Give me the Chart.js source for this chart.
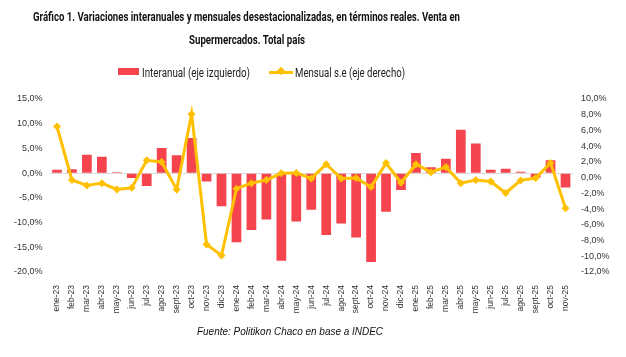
<!DOCTYPE html>
<html>
<head>
<meta charset="utf-8">
<script src="https://cdn.jsdelivr.net/npm/chart.js@4/dist/chart.umd.min.js"></script>
<style>
  html, body { margin: 0; padding: 0; background: #fff; }
  #wrap { position: relative; width: 626px; height: 357px; overflow: hidden; }
  canvas { position: absolute; left: 0; top: 0; }
  .t { position: absolute; white-space: nowrap; transform-origin: 0 50%; color: #1a1a1a; line-height: 1; }
  .title { font-family: "Liberation Sans Narrow", "Roboto", sans-serif; font-weight: bold; font-size: 12px; color: #111; }
  .leg { font-family: "Liberation Sans Narrow", "Roboto", sans-serif; font-size: 13px; color: #222; }
  .foot { font-family: "Liberation Sans", "Arial", sans-serif; font-style: italic; font-size: 10px; color: #111; }
  .sw { position: absolute; }
</style>
</head>
<body>
<div id="wrap">
  <canvas id="c" width="626" height="357"></canvas>
  <div class="t title" data-x="33" data-y="17" data-w="427">Gráfico 1. Variaciones interanuales y mensuales desestacionalizadas, en términos reales. Venta en</div>
  <div class="t title" data-x="189" data-y="40" data-w="116">Supermercados. Total país</div>
  <div class="sw" style="left:118px; top:68px; width:21px; height:7px; background:#F5444E;"></div>
  <div class="t leg" data-x="142" data-y="72" data-w="108">Interanual (eje izquierdo)</div>
  <div class="sw" style="left:269px; top:70.5px; width:24px; height:3px; background:#FFC000;"></div>
  <div class="sw" style="left:278px; top:68px; width:6px; height:6px; background:#FFC000; transform:rotate(45deg);"></div>
  <div class="t leg" data-x="295" data-y="72" data-w="110">Mensual s.e (eje derecho)</div>
  <div class="t foot" data-x="197" data-y="332" data-w="186">Fuente: Politikon Chaco en base a INDEC</div>
</div>
<script>
const categories = ["ene-23","feb-23","mar-23","abr-23","may-23","jun-23","jul-23","ago-23","sept-23","oct-23","nov-23","dic-23",
  "ene-24","feb-24","mar-24","abr-24","may-24","jun-24","jul-24","ago-24","sept-24","oct-24","nov-24","dic-24",
  "ene-25","feb-25","mar-25","abr-25","may-25","jun-25","jul-25","ago-25","sept-25","oct-25","nov-25"];

const interanual = [0.7, 0.8, 3.7, 3.3, 0.2, -1.0, -2.6, 5.1, 3.6, 7.1, -1.7, -6.7,
  -14.0, -11.5, -9.4, -17.7, -9.8, -7.4, -12.5, -10.2, -13.0, -18.0, -7.8, -3.4,
  4.1, 1.2, 2.9, 8.8, 6.0, 0.7, 0.9, 0.3, -0.9, 2.6, -2.9];

const mensualSE = [6.5, -0.3, -1.0, -0.7, -1.5, -1.3, 2.2, 2.0, -1.5, 8.1, -8.5, -9.9,
  -1.4, -0.7, -0.3, 0.55, 0.6, -0.1, 1.7, -0.1, -0.05, -1.2, 1.85, -0.65,
  1.7, 0.7, 1.35, -0.7, -0.3, -0.5, -1.95, -0.35, -0.05, 1.85, -3.9];

const leftTicks = { min: -20, max: 15, step: 5 };
const rightTicks = { min: -12, max: 10, step: 2 };

function pct(v) { return v.toFixed(1).replace('.', ',') + '%'; }

// fit overlay text to measured widths
document.querySelectorAll('.t').forEach(el => {
  const x = +el.dataset.x, y = +el.dataset.y, w = +el.dataset.w;
  const r = el.getBoundingClientRect();
  const s = w / r.width;
  el.style.left = x + 'px';
  el.style.top = (y - r.height / 2) + 'px';
  el.style.transform = 'scaleX(' + s + ')';
});

const tickFont = { family: '"Liberation Sans", Arial, sans-serif', size: 9 };

new Chart(document.getElementById('c'), {
  data: {
    labels: categories,
    datasets: [
      {
        type: 'line', label: 'Mensual s.e (eje derecho)', data: mensualSE, yAxisID: 'y2',
        borderColor: '#FFC000', backgroundColor: '#FFC000', borderWidth: 3,
        pointStyle: 'rectRot', pointRadius: 4, pointBorderWidth: 0, tension: 0, order: 0
      },
      {
        type: 'bar', label: 'Interanual (eje izquierdo)', data: interanual, yAxisID: 'y',
        backgroundColor: '#F5444E', barPercentage: 0.65, categoryPercentage: 1.0, order: 1
      }
    ]
  },
  options: {
    responsive: false,
    animation: false,
    layout: { padding: { top: 99, left: 0, right: 0, bottom: 0 } },
    plugins: { legend: { display: false }, title: { display: false }, tooltip: { enabled: false } },
    scales: {
      x: {
        offset: true,
        grid: { display: false },
        border: { display: false },
        ticks: { autoSkip: false, maxRotation: 90, minRotation: 90, padding: 5,
          color: '#333', font: { family: '"Liberation Sans", Arial, sans-serif', size: 8.5 } },
        afterFit: s => { s.height = 85; }
      },
      y: {
        position: 'left', min: leftTicks.min, max: leftTicks.max,
        ticks: { stepSize: leftTicks.step, padding: 7, color: '#333', font: tickFont, callback: v => pct(v) },
        grid: { drawTicks: false, color: ctx => (ctx.tick && ctx.tick.value === 0) ? '#d9d9d9' : 'rgba(0,0,0,0)', lineWidth: 1 },
        border: { display: false },
        afterFit: s => { s.width = 49.5; }
      },
      y2: {
        position: 'right', min: rightTicks.min, max: rightTicks.max,
        ticks: { stepSize: rightTicks.step, padding: 8, color: '#333', font: tickFont, callback: v => pct(v) },
        grid: { display: false, drawTicks: false },
        border: { display: false },
        afterFit: s => { s.width = 53; }
      }
    }
  }
});
</script>
</body>
</html>
